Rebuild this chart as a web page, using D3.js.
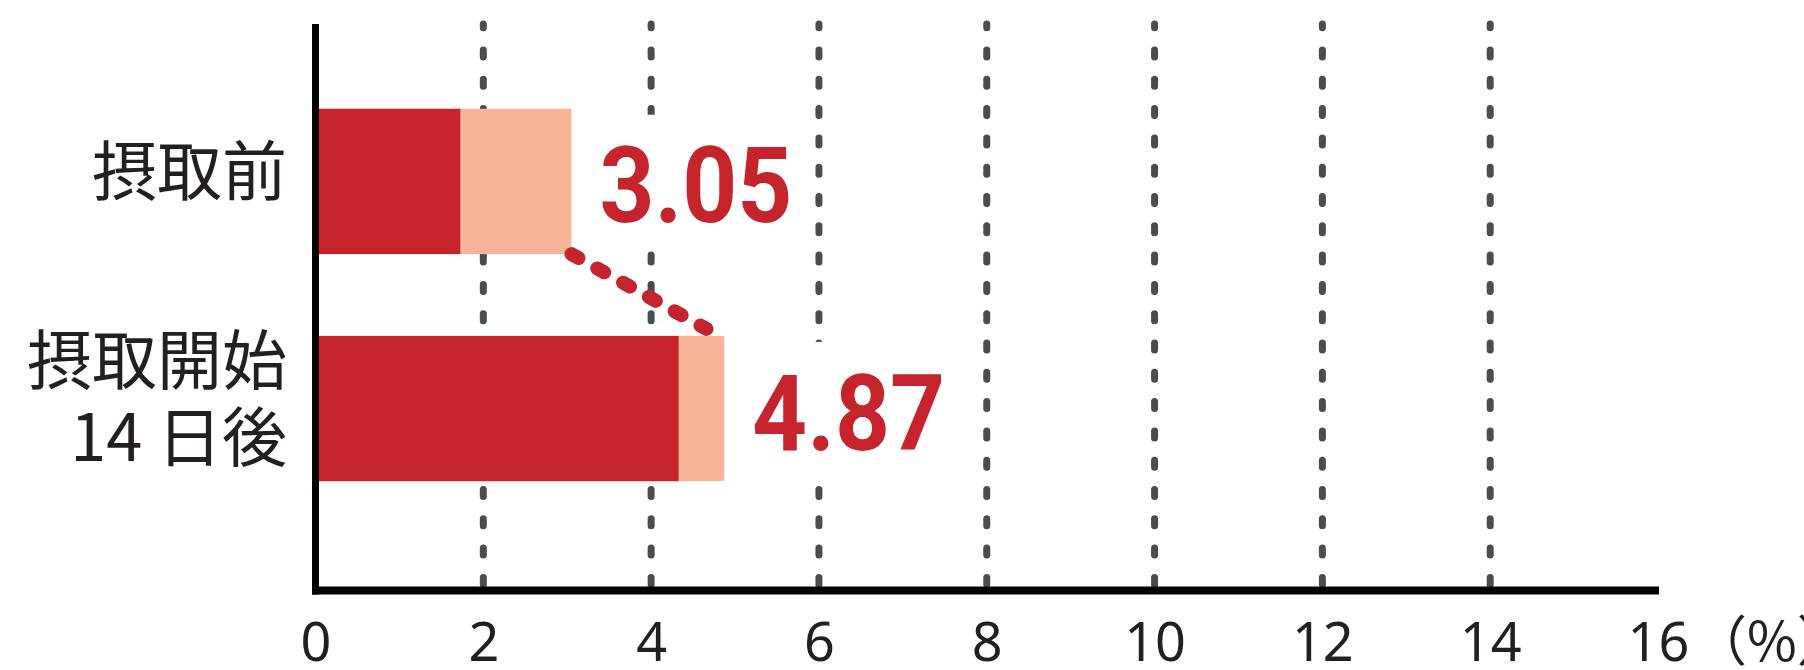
<!DOCTYPE html>
<html>
<head>
<meta charset="utf-8">
<script src="https://cdn.jsdelivr.net/npm/d3@7"></script>
<style>
  html, body { margin: 0; padding: 0; background: #ffffff; }
  svg { display: block; }
</style>
</head>
<body>
<svg id="chart" width="1804" height="670"></svg>
<script>
// ---- data ----
const categories = ["摂取前", "摂取開始 14 日後"];
const categoryLines = [["摂取前"], ["摂取開始", "14 日後"]];
const baseValues = [1.73, 4.33];
const totalValues = [3.05, 4.87];
const valueLabels = ["3.05", "4.87"];
const xTicks = [0, 2, 4, 6, 8, 10, 12, 14, 16];
const gridTicks = [2, 4, 6, 8, 10, 12, 14];
const unitLabel = "（%）";
const connectorEndValue = 4.66;

// ---- styles ----
const darkRed = "#c6242c";
const lightSalmon = "#f8b59b";
const gridColor = "#4b4c4e";
const textColor = "#231f20";

const svg = d3.select("#chart");
const plotTop = 24, axisY = 590.5;

const x = d3.scaleLinear().domain([0, 16]).range([315.5, 1658]);
const y = d3.scaleBand().domain(categories).range([24, 566])
  .paddingInner(0.36).paddingOuter(0.373);
const bw = y.bandwidth();

// grid lines
svg.append("g").selectAll("line").data(gridTicks).join("line")
  .attr("x1", d => x(d)).attr("x2", d => x(d))
  .attr("y1", plotTop).attr("y2", axisY)
  .attr("stroke", gridColor).attr("stroke-width", 7)
  .attr("stroke-linecap", "round")
  .attr("stroke-dasharray", "7 22.3")
  .attr("stroke-dashoffset", 3.3);

// white backgrounds behind value labels
svg.append("g").selectAll("rect").data(categories).join("rect")
  .attr("x", (d, i) => x(totalValues[i]) + 12)
  .attr("width", 215)
  .attr("y", d => y(d) + 6)
  .attr("height", bw - 11)
  .attr("fill", "#ffffff");

// bars: base segment
svg.append("g").selectAll("rect").data(categories).join("rect")
  .attr("x", x(0)).attr("y", d => y(d))
  .attr("width", (d, i) => x(baseValues[i]) - x(0))
  .attr("height", bw)
  .attr("fill", darkRed);

// bars: remaining segment
svg.append("g").selectAll("rect").data(categories).join("rect")
  .attr("x", (d, i) => x(baseValues[i])).attr("y", d => y(d))
  .attr("width", (d, i) => x(totalValues[i]) - x(baseValues[i]))
  .attr("height", bw)
  .attr("fill", lightSalmon);

// value labels
svg.append("g").selectAll("text").data(categories).join("text")
  .attr("x", (d, i) => x(totalValues[i]) + 28)
  .attr("y", d => y(d) + bw / 2 + 41)
  .attr("font-family", "Roboto, 'Liberation Sans', sans-serif")
  .attr("font-weight", 700)
  .attr("font-size", 106)
  .attr("textLength", 193)
  .attr("lengthAdjust", "spacingAndGlyphs")
  .attr("fill", darkRed)
  .text((d, i) => valueLabels[i]);

// dotted connector
svg.append("line")
  .attr("x1", x(totalValues[0])).attr("y1", y(categories[0]) + bw)
  .attr("x2", x(connectorEndValue)).attr("y2", y(categories[1]) - 7)
  .attr("stroke", darkRed).attr("stroke-width", 14)
  .attr("stroke-linecap", "round")
  .attr("stroke-dasharray", "8 21.5");

// category labels
const lineH = 77;
const catG = svg.append("g");
categories.forEach((c, i) => {
  const lines = categoryLines[i];
  const cy = y(c) + bw / 2;
  const t = catG.append("text")
    .attr("text-anchor", "end")
    .attr("font-family", "'Noto Sans CJK JP', 'Noto Sans', sans-serif")
    .attr("font-size", 65)
    .attr("fill", textColor);
  lines.forEach((ln, j) => {
    t.append("tspan")
      .attr("x", x(0) - 28.5)
      .attr("y", cy + 14 + (j - (lines.length - 1) / 2) * lineH)
      .text(ln);
  });
});

// x axis (ticks & labels)
const xAxis = d3.axisBottom(x).tickValues(xTicks).tickSize(0).tickFormat(d3.format("d"));
const axG = svg.append("g").attr("transform", `translate(0,${axisY})`).call(xAxis);
axG.select(".domain").remove();
axG.selectAll("text")
  .attr("y", 70.5).attr("dy", 0)
  .attr("font-family", "'Noto Sans', sans-serif")
  .attr("font-size", 54)
  .attr("fill", textColor);

// unit label
svg.append("text")
  .attr("x", x(16) + 35)
  .attr("y", axisY + 70.5)
  .attr("font-family", "'Noto Sans CJK JP', sans-serif")
  .attr("font-size", 54)
  .attr("fill", textColor)
  .text(unitLabel);

// axis lines
svg.append("line")
  .attr("x1", x(0)).attr("x2", x(0))
  .attr("y1", plotTop).attr("y2", axisY + 4)
  .attr("stroke", "#000").attr("stroke-width", 7);
svg.append("line")
  .attr("x1", x(0) - 3.5).attr("x2", x(16) + 1)
  .attr("y1", axisY).attr("y2", axisY)
  .attr("stroke", "#000").attr("stroke-width", 8);
</script>
</body>
</html>
